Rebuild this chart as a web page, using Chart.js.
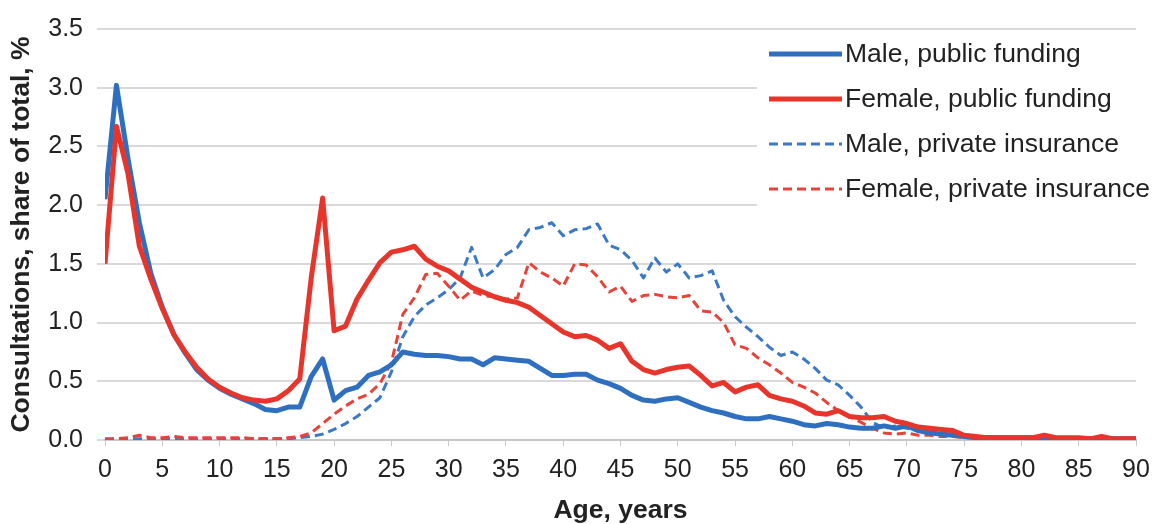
<html lang="en">
<head>
    <meta charset="UTF-8">
    <title>Consultations by age</title>
    <script src="https://cdn.jsdelivr.net/npm/chart.js@4.4.1/dist/chart.umd.min.js"></script>
    <style>
        body { margin: 0; background: #ffffff; }
        #wrap { width: 1163px; height: 524px; }
    </style>
</head>
<body>
    <div id="wrap"><canvas id="graph1" width="1163" height="524"></canvas></div>
    <script>
        // age 0..90, one value per year
        var ages = [];
        for (var a = 0; a <= 90; a++) ages.push(a);

        var malePublic = [2.05, 3.02, 2.40, 1.85, 1.42, 1.13, 0.90, 0.74, 0.60, 0.51,
            0.44, 0.39, 0.35, 0.31, 0.26, 0.25, 0.28, 0.28, 0.54, 0.69,
            0.34, 0.42, 0.45, 0.55, 0.58, 0.64, 0.75, 0.73, 0.72, 0.72,
            0.71, 0.69, 0.69, 0.64, 0.70, 0.69, 0.68, 0.67, 0.61, 0.55,
            0.55, 0.56, 0.56, 0.51, 0.48, 0.44, 0.38, 0.34, 0.33, 0.35,
            0.36, 0.32, 0.28, 0.25, 0.23, 0.20, 0.18, 0.18, 0.20, 0.18,
            0.16, 0.13, 0.12, 0.14, 0.13, 0.11, 0.10, 0.10, 0.12, 0.10,
            0.12, 0.08, 0.06, 0.05, 0.04, 0.03, 0.02, 0.02, 0.02, 0.02,
            0.02, 0.02, 0.02, 0.01, 0.01, 0.01, 0.01, 0.01, 0.01, 0.01, 0.01];

        var femalePublic = [1.50, 2.67, 2.27, 1.65, 1.37, 1.12, 0.90, 0.75, 0.62, 0.52,
            0.45, 0.40, 0.36, 0.34, 0.33, 0.35, 0.42, 0.52, 1.38, 2.06,
            0.93, 0.97, 1.20, 1.36, 1.51, 1.60, 1.62, 1.65, 1.54, 1.48,
            1.44, 1.37, 1.30, 1.26, 1.22, 1.19, 1.17, 1.13, 1.06, 0.99,
            0.92, 0.88, 0.89, 0.85, 0.78, 0.82, 0.67, 0.60, 0.57, 0.60,
            0.62, 0.63, 0.55, 0.46, 0.49, 0.41, 0.45, 0.47, 0.38, 0.35,
            0.33, 0.29, 0.23, 0.22, 0.25, 0.20, 0.19, 0.19, 0.20, 0.16,
            0.14, 0.11, 0.10, 0.09, 0.08, 0.04, 0.03, 0.02, 0.02, 0.02,
            0.02, 0.02, 0.04, 0.02, 0.02, 0.02, 0.01, 0.03, 0.01, 0.01, 0.01];

        var malePrivate = [0.01, 0.01, 0.01, 0.01, 0.01, 0.01, 0.01, 0.01, 0.01, 0.01,
            0.01, 0.01, 0.01, 0.01, 0.01, 0.01, 0.01, 0.02, 0.03, 0.05,
            0.09, 0.14, 0.20, 0.28, 0.36, 0.58, 0.88, 1.05, 1.15, 1.21,
            1.28, 1.38, 1.64, 1.38, 1.45, 1.58, 1.64, 1.79, 1.81, 1.85,
            1.74, 1.79, 1.80, 1.84, 1.66, 1.62, 1.53, 1.38, 1.55, 1.43,
            1.50, 1.38, 1.40, 1.44, 1.19, 1.05, 0.96, 0.88, 0.79, 0.72,
            0.75, 0.69, 0.61, 0.51, 0.47, 0.38, 0.28, 0.15, 0.10, 0.12,
            0.10, 0.08, 0.07, 0.06, 0.05, 0.04, 0.03, 0.03, 0.02, 0.02,
            0.02, 0.02, 0.01, 0.01, 0.01, 0.01, 0.01, 0.01, 0.01, 0.01, 0.01];

        var femalePrivate = [0.00, 0.01, 0.02, 0.04, 0.02, 0.02, 0.03, 0.02, 0.02, 0.02,
            0.02, 0.02, 0.02, 0.01, 0.01, 0.01, 0.02, 0.03, 0.06, 0.14,
            0.22, 0.29, 0.35, 0.39, 0.48, 0.66, 1.07, 1.21, 1.41, 1.42,
            1.31, 1.19, 1.27, 1.23, 1.22, 1.20, 1.21, 1.51, 1.43, 1.38,
            1.31, 1.50, 1.49, 1.39, 1.26, 1.31, 1.18, 1.23, 1.24, 1.22,
            1.21, 1.23, 1.10, 1.09, 1.00, 0.81, 0.78, 0.70, 0.64, 0.57,
            0.49, 0.45, 0.40, 0.32, 0.25, 0.20, 0.15, 0.10, 0.06, 0.05,
            0.06, 0.04, 0.04, 0.03, 0.03, 0.02, 0.02, 0.02, 0.02, 0.02,
            0.02, 0.02, 0.02, 0.01, 0.01, 0.01, 0.01, 0.01, 0.01, 0.01, 0.01];

        var seriesNames = ["Male, public funding", "Female, public funding",
            "Male, private insurance", "Female, private insurance"];

        const BLUE = "#2f6fbf";
        const RED = "#e8352b";
        const FONT = "'Liberation Sans', Arial, sans-serif";

        function pts(vals) {
            var out = [];
            for (var i = 0; i < ages.length; i++) out.push({ x: ages[i], y: vals[i] });
            return out;
        }

        // legend drawn inside the plot, top right, on a white box
        const insideLegend = {
            id: "insideLegend",
            afterDatasetsDraw(chart) {
                const ctx = chart.ctx;
                ctx.save();
                ctx.fillStyle = "#ffffff";
                ctx.fillRect(757, 34, 406, 178);
                var rowY = [54, 99, 144, 189];
                chart.data.datasets.forEach(function (ds, i) {
                    var y = rowY[i];
                    ctx.beginPath();
                    ctx.strokeStyle = ds.borderColor;
                    ctx.lineWidth = ds.borderDash.length ? 3 : 5;
                    ctx.setLineDash(ds.borderDash);
                    ctx.moveTo(769, y);
                    ctx.lineTo(842, y);
                    ctx.stroke();
                    ctx.setLineDash([]);
                    ctx.fillStyle = "#222222";
                    ctx.font = "26.5px " + FONT;
                    ctx.textBaseline = "middle";
                    ctx.textAlign = "left";
                    ctx.fillText(ds.label, 845, y + 1);
                });
                ctx.restore();
            }
        };

        const graph1 = new Chart("graph1", {
            type: "line",
            data: {
                datasets: [
                    { label: seriesNames[0], data: pts(malePublic), borderColor: BLUE, borderWidth: 5, borderDash: [], order: 1 },
                    { label: seriesNames[1], data: pts(femalePublic), borderColor: RED, borderWidth: 5, borderDash: [], order: 0 },
                    { label: seriesNames[2], data: pts(malePrivate), borderColor: "#3b78c6", borderWidth: 3, borderDash: [9, 5], order: 3 },
                    { label: seriesNames[3], data: pts(femalePrivate), borderColor: "#e6433a", borderWidth: 3, borderDash: [9, 5], order: 2 }
                ]
            },
            options: {
                responsive: false,
                animation: false,
                layout: { padding: { top: 27, right: 27, left: 0, bottom: 0 } },
                elements: {
                    point: { radius: 0 },
                    line: { tension: 0, fill: false, borderCapStyle: "butt", borderJoinStyle: "round" }
                },
                plugins: {
                    legend: { display: false },
                    tooltip: { enabled: false }
                },
                scales: {
                    x: {
                        type: "linear",
                        min: 0,
                        max: 90,
                        afterFit: function (s) { s.height = 84; },
                        ticks: { stepSize: 5, color: "#222222", font: { family: FONT, size: 25 }, padding: 9, maxRotation: 0 },
                        grid: { drawOnChartArea: false, drawTicks: true, tickLength: 6, color: "#c8c8c8" },
                        border: { color: "#c8c8c8", width: 2 },
                        title: { display: true, text: "Age, years", color: "#222222", font: { family: FONT, size: 26.5, weight: "bold", lineHeight: 1.0 }, padding: { top: 4, bottom: 0 } }
                    },
                    y: {
                        min: 0,
                        max: 3.5,
                        afterFit: function (s) { s.width = 105; },
                        ticks: {
                            stepSize: 0.5, color: "#222222", font: { family: FONT, size: 25 }, padding: 14,
                            callback: function (v) { return v.toFixed(1); }
                        },
                        grid: { color: "#d9d9d9", lineWidth: 2, tickLength: 8 },
                        border: { display: false },
                        title: { display: true, text: "Consultations, share of total, %", color: "#222222", font: { family: FONT, size: 26.5, weight: "bold" }, padding: { top: 6, bottom: 4 } }
                    }
                }
            },
            plugins: [insideLegend]
        });
    </script>
</body>
</html>
